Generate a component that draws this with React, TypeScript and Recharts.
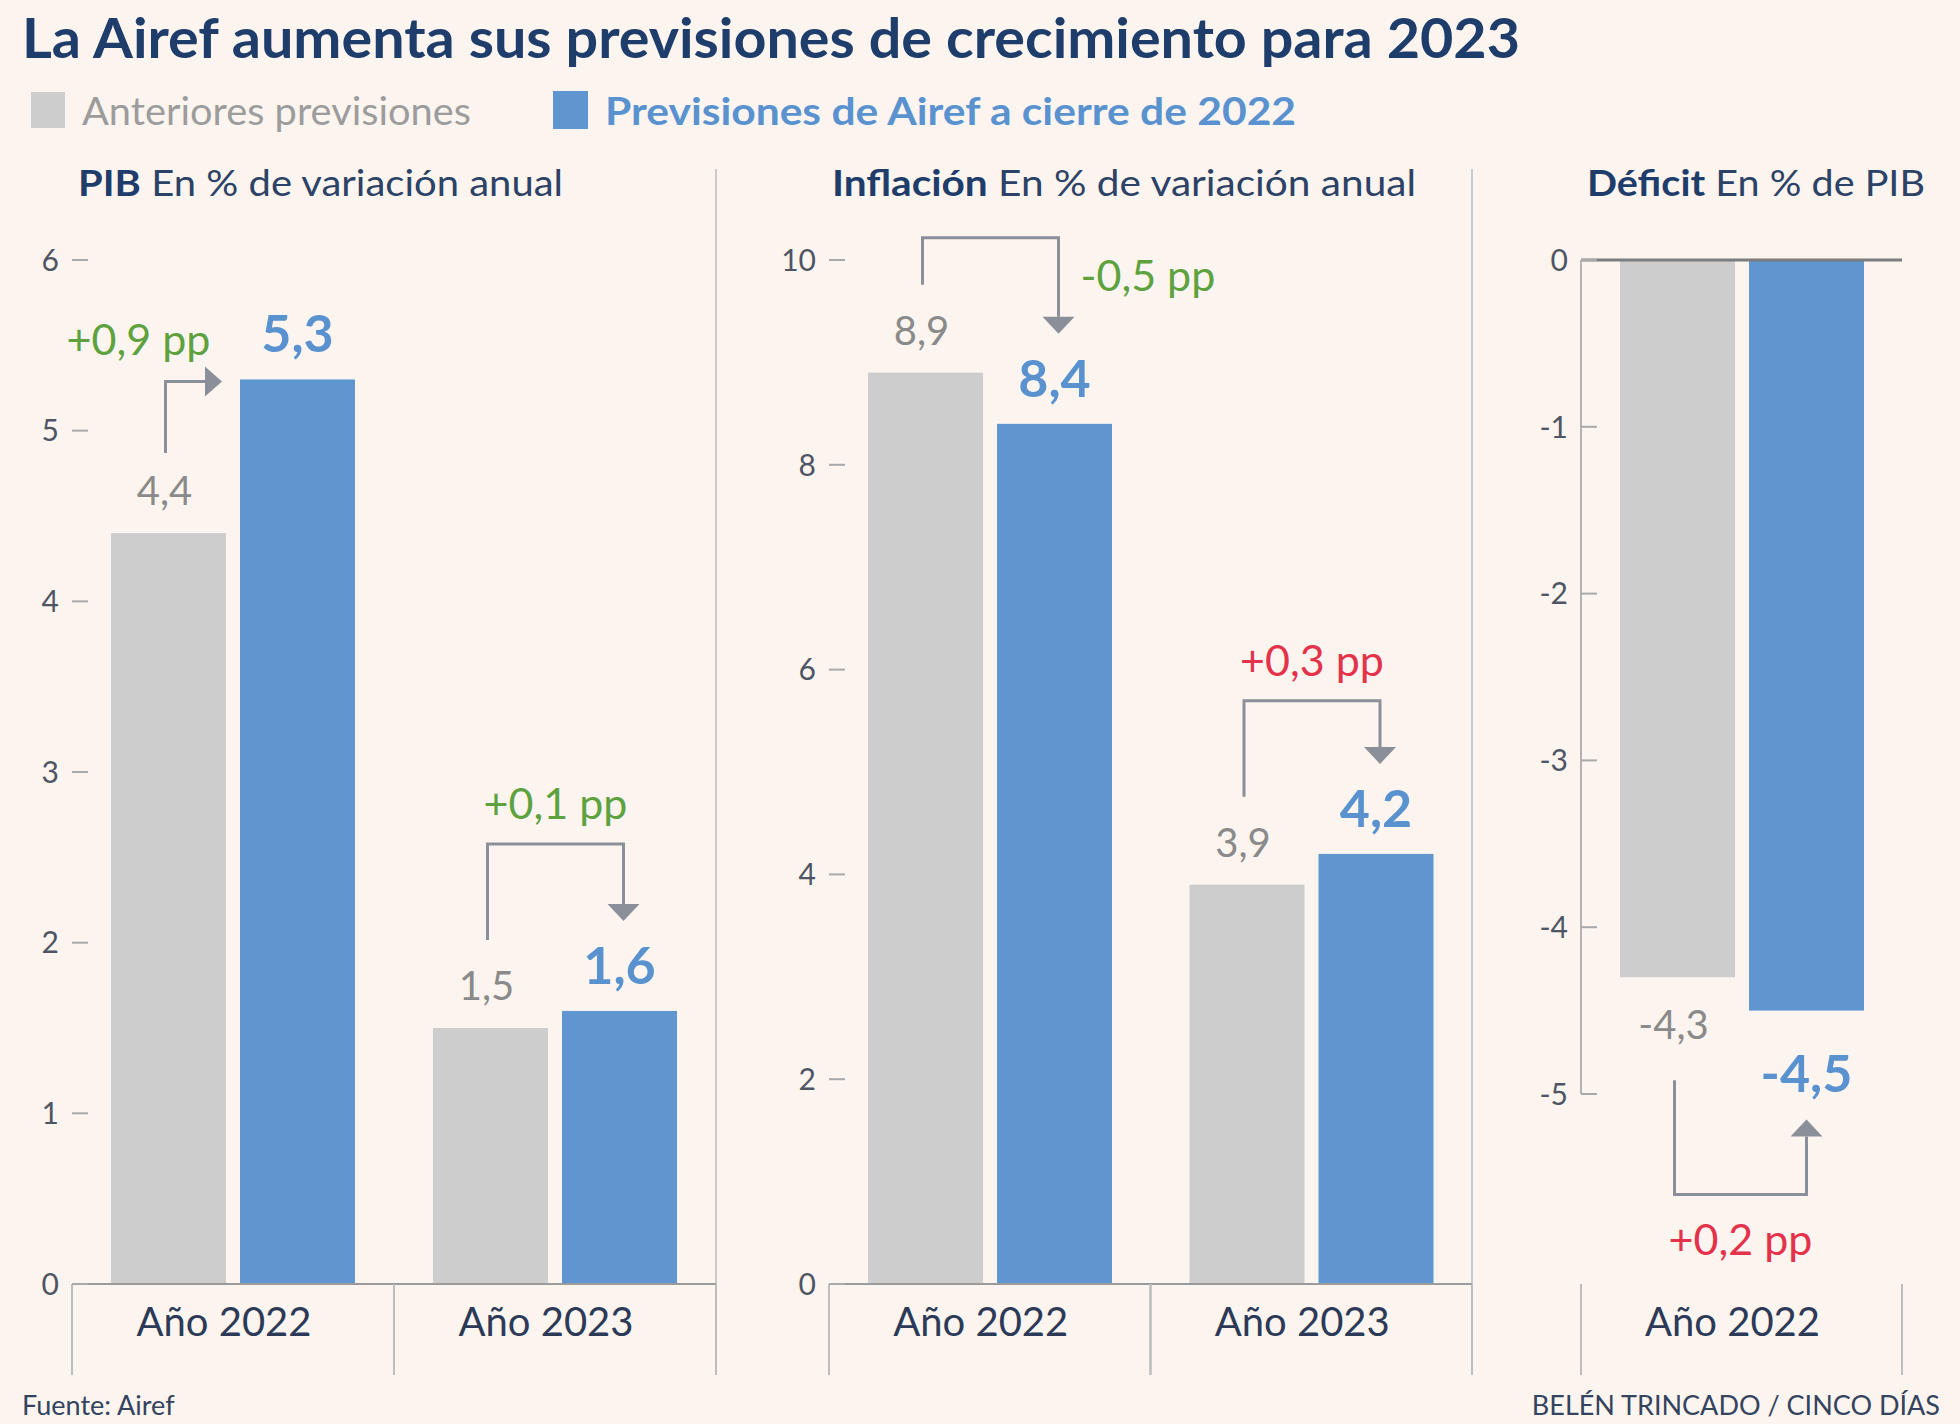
import React from 'react';
import { Bar, BarChart, ReferenceLine, XAxis, YAxis } from 'recharts';

// Datos
const YEARS_PIB = ['Año 2022', 'Año 2023'];
const PIB_ANTERIOR = [4.4, 1.5];
const PIB_AIREF = [5.3, 1.6];
const PIB_DELTA = ['+0,9 pp', '+0,1 pp'];
const PIB_TICKS = [0, 1, 2, 3, 4, 5, 6];

const YEARS_INFL = ['Año 2022', 'Año 2023'];
const INFL_ANTERIOR = [8.9, 3.9];
const INFL_AIREF = [8.4, 4.2];
const INFL_DELTA = ['-0,5 pp', '+0,3 pp'];
const INFL_TICKS = [0, 2, 4, 6, 8, 10];

const YEARS_DEF = ['Año 2022'];
const DEF_ANTERIOR = [-4.3];
const DEF_AIREF = [-4.5];
const DEF_DELTA = ['+0,2 pp'];
const DEF_TICKS = [0, -1, -2, -3, -4, -5];

const FONT = 'Lato, "Noto Sans", sans-serif';
const BG = '#fcf5ef';
const NAVY = '#1f3d6b';
const GRAY_BAR = '#cdcdcd';
const BLUE_BAR = '#6096d0';
const BLUE_TXT = '#5a92d0';
const GRAY_TXT = '#8a8a8a';
const GREEN = '#5ea23f';
const RED = '#e4324b';
const ARROW = '#8b8f99';
const SEP = '#bdbdbd';
const TICK_TXT = '#4f5565';

const BAR_SIZE = 115;
const BAR_GAP = 14;
const CHART_TOP = 160;
const CHART_H = 1215;
const MARGIN_TOP = 100;

type ArrowKind = 'side' | 'over' | 'overRight' | 'under';

interface Panel {
  key: string;
  bold: string;
  rest: string;
  titleX: number;
  titleLen: number;
  years: string[];
  prev: number[];
  cur: number[];
  delta: string[];
  ticks: number[];
  domain: [number, number];
  left: number;
  width: number;
  yWidth: number;
  xHeight: number;
  arrows: ArrowKind[];
  deltaColors: string[];
  negative?: boolean;
}

const PANELS: Panel[] = [
  {
    key: 'pib', bold: 'PIB', rest: ' En % de variación anual', titleX: 78, titleLen: 485,
    years: YEARS_PIB, prev: PIB_ANTERIOR, cur: PIB_AIREF, delta: PIB_DELTA,
    ticks: PIB_TICKS, domain: [0, 6], left: 0, width: 716, yWidth: 72, xHeight: 91,
    arrows: ['side', 'over'], deltaColors: [GREEN, GREEN],
  },
  {
    key: 'infl', bold: 'Inflación', rest: ' En % de variación anual', titleX: 832, titleLen: 584,
    years: YEARS_INFL, prev: INFL_ANTERIOR, cur: INFL_AIREF, delta: INFL_DELTA,
    ticks: INFL_TICKS, domain: [0, 10], left: 716, width: 756, yWidth: 113, xHeight: 91,
    arrows: ['overRight', 'over'], deltaColors: [GREEN, RED],
  },
  {
    key: 'def', bold: 'Déficit', rest: ' En % de PIB', titleX: 1587, titleLen: 338,
    years: YEARS_DEF, prev: DEF_ANTERIOR, cur: DEF_AIREF, delta: DEF_DELTA,
    ticks: DEF_TICKS, domain: [-5, 0], left: 1472, width: 430, yWidth: 109, xHeight: 281,
    arrows: ['under'], deltaColors: [RED], negative: true,
  },
];

const fmt = (v: number) => String(v).replace('.', ',');

function YTick(props: any) {
  const { x, y, payload } = props;
  return (
    <g>
      <text x={x} y={y} dy="0.36em" textAnchor="end" fontSize={30} fill={TICK_TXT} fontFamily={FONT}>
        {fmt(payload.value)}
      </text>
      <line x1={x + 13} x2={x + 29} y1={y} y2={y} stroke="#a9a9a9" strokeWidth={2} />
    </g>
  );
}

function makeXTick(halfBand: number, sepFrom: number, labelY: number) {
  return (props: any) => {
    const { x, y, payload } = props;
    return (
      <g>
        <line x1={x - halfBand} x2={x - halfBand} y1={y + sepFrom} y2={y + sepFrom + 91} stroke={SEP} strokeWidth={2} />
        <line x1={x + halfBand} x2={x + halfBand} y1={y + sepFrom} y2={y + sepFrom + 91} stroke={SEP} strokeWidth={2} />
        <text x={x - 9} y={y + labelY} textAnchor="middle" fontSize={40} fill="#2c3a57" fontFamily={FONT}>
          {payload.value}
        </text>
      </g>
    );
  };
}

function barBox(props: any) {
  const { x, y, width, height } = props;
  const top = Math.min(y, y + height);
  return { x, top, width, h: Math.abs(height), bottom: top + Math.abs(height) };
}

function PrevShape(props: any) {
  const b = barBox(props);
  const neg = props.payload.prev < 0;
  const ly = neg ? b.bottom + 62 : b.top - 28;
  return (
    <g>
      <rect x={b.x} y={b.top} width={b.width} height={b.h} fill={GRAY_BAR} />
      <text x={b.x + b.width / 2 - 4} y={ly} textAnchor="middle" fontSize={40} fill={GRAY_TXT} fontFamily={FONT}>
        {fmt(props.payload.prev)}
      </text>
    </g>
  );
}

function makeCurShape(panel: Panel) {
  return (props: any) => {
    const b = barBox(props);
    const { payload, index } = props;
    const neg = payload.cur < 0;
    const ppu = b.h / Math.abs(payload.cur);
    const zero = neg ? b.top : b.bottom;
    const prevEnd = zero - payload.prev * ppu;
    const curEnd = neg ? b.bottom : b.top;
    const cx = b.x + b.width / 2;
    const gx = b.x - BAR_GAP - b.width / 2 - 3;
    const kind = panel.arrows[index];
    const color = panel.deltaColors[index];
    const label = panel.delta[index];
    const ly = neg ? curEnd + 81 : curEnd - 27;
    const txt = { fontFamily: FONT, fontSize: 43, fill: color };

    let arrow: React.ReactNode = null;
    let delta: React.ReactNode = null;
    if (kind === 'side') {
      const start = prevEnd - 80;
      const hy = curEnd + 2;
      const tipX = b.x - 18;
      arrow = (
        <g>
          <polyline points={`${gx},${start} ${gx},${hy} ${tipX - 17},${hy}`} fill="none" stroke={ARROW} strokeWidth={3} />
          <polygon points={`${tipX - 17},${hy - 15} ${tipX - 17},${hy + 15} ${tipX},${hy}`} fill={ARROW} />
        </g>
      );
      delta = <text x={gx - 27} y={curEnd - 24} textAnchor="middle" {...txt}>{label}</text>;
    } else if (kind === 'over' || kind === 'overRight') {
      const start = prevEnd - 88;
      const tip = curEnd - 90;
      const elbow = Math.max(start, tip) - 96;
      const ex = cx + 4;
      arrow = (
        <g>
          <polyline points={`${gx},${start} ${gx},${elbow} ${ex},${elbow} ${ex},${tip - 17}`} fill="none" stroke={ARROW} strokeWidth={3} />
          <polygon points={`${ex - 16},${tip - 17} ${ex + 16},${tip - 17} ${ex},${tip}`} fill={ARROW} />
        </g>
      );
      delta = kind === 'over'
        ? <text x={(gx + ex) / 2} y={elbow - 25} textAnchor="middle" {...txt}>{label}</text>
        : <text x={cx + 26} y={elbow + 53} textAnchor="start" {...txt}>{label}</text>;
    } else {
      const start = prevEnd + 103;
      const tip = curEnd + 109;
      const elbow = Math.max(start, tip) + 75;
      const ex = cx;
      arrow = (
        <g>
          <polyline points={`${gx},${start} ${gx},${elbow} ${ex},${elbow} ${ex},${tip + 17}`} fill="none" stroke={ARROW} strokeWidth={3} />
          <polygon points={`${ex - 16},${tip + 17} ${ex + 16},${tip + 17} ${ex},${tip}`} fill={ARROW} />
        </g>
      );
      delta = <text x={(gx + ex) / 2} y={elbow + 60} textAnchor="middle" {...txt}>{label}</text>;
    }

    return (
      <g>
        <rect x={b.x} y={b.top} width={b.width} height={b.h} fill={BLUE_BAR} />
        <text x={cx} y={ly} textAnchor="middle" fontSize={52} fontWeight={700} fill={BLUE_TXT} fontFamily={FONT}>
          {fmt(payload.cur)}
        </text>
        {arrow}
        {delta}
      </g>
    );
  };
}

function PanelChart({ panel }: { panel: Panel }) {
  const data = panel.years.map((year, i) => ({ year, prev: panel.prev[i], cur: panel.cur[i] }));
  const plotW = panel.width - panel.yWidth;
  const halfBand = plotW / panel.years.length / 2;
  const extra = panel.xHeight - 91;
  return (
    <div style={{ position: 'absolute', left: panel.left, top: CHART_TOP }}>
      <BarChart
        width={panel.width}
        height={CHART_H}
        data={data}
        margin={{ top: MARGIN_TOP, right: 0, bottom: 0, left: 0 }}
        barGap={BAR_GAP}
      >
        <XAxis
          dataKey="year"
          height={panel.xHeight}
          interval={0}
          tickSize={0}
          tickMargin={0}
          tickLine={false}
          axisLine={panel.negative ? false : { stroke: '#9b9b9b', strokeWidth: 2 }}
          tick={makeXTick(halfBand, extra, extra + 52)}
        />
        <YAxis
          type="number"
          domain={panel.domain}
          ticks={panel.ticks}
          interval={0}
          width={panel.yWidth}
          tickSize={0}
          tickMargin={13}
          tickLine={false}
          axisLine={panel.negative ? { stroke: '#b3b3b3', strokeWidth: 2 } : false}
          tick={<YTick />}
        />
        <Bar dataKey="prev" barSize={BAR_SIZE} fill={GRAY_BAR} shape={<PrevShape />} isAnimationActive={false} />
        <Bar dataKey="cur" barSize={BAR_SIZE} fill={BLUE_BAR} shape={makeCurShape(panel)} isAnimationActive={false} />
        {panel.negative && <ReferenceLine y={0} stroke="#7d7d7d" strokeWidth={3} />}
      </BarChart>
    </div>
  );
}

export default function App() {
  return (
    <div style={{ position: 'absolute', left: 0, top: 0, width: 1960, height: 1424, background: BG, overflow: 'hidden' }}>
      <style>{`.recharts-surface { overflow: visible; }`}</style>
      <svg width={1960} height={1424} style={{ position: 'absolute', left: 0, top: 0 }} fontFamily={FONT}>
        <text x={22} y={58} fontSize={55} fontWeight={700} fill={NAVY} textLength={1498} lengthAdjust="spacingAndGlyphs">
          La Airef aumenta sus previsiones de crecimiento para 2023
        </text>
        <rect x={31} y={92} width={34} height={36} fill={GRAY_BAR} />
        <text x={82} y={125} fontSize={38} fill="#9c9c9c" textLength={389} lengthAdjust="spacingAndGlyphs">
          Anteriores previsiones
        </text>
        <rect x={553} y={91} width={35} height={38} fill={BLUE_BAR} />
        <text x={605} y={125} fontSize={38} fontWeight={700} fill={BLUE_TXT} textLength={691} lengthAdjust="spacingAndGlyphs">
          Previsiones de Airef a cierre de 2022
        </text>
        {PANELS.map((p) => (
          <text key={p.key} x={p.titleX} y={196} fontSize={37} fill="#2c4266" textLength={p.titleLen} lengthAdjust="spacingAndGlyphs">
            <tspan fontWeight={700} fill={NAVY}>{p.bold}</tspan>
            <tspan>{p.rest}</tspan>
          </text>
        ))}
        <line x1={716} x2={716} y1={169} y2={1375} stroke="#cacaca" strokeWidth={2} />
        <line x1={1472} x2={1472} y1={169} y2={1375} stroke="#cacaca" strokeWidth={2} />
        <text x={22} y={1415} fontSize={27} fill="#34435e">Fuente: Airef</text>
        <text x={1940} y={1415} fontSize={27} fill="#34435e" textAnchor="end">
          BELÉN TRINCADO / CINCO DÍAS
        </text>
      </svg>
      {PANELS.map((p) => (
        <PanelChart key={p.key} panel={p} />
      ))}
    </div>
  );
}
